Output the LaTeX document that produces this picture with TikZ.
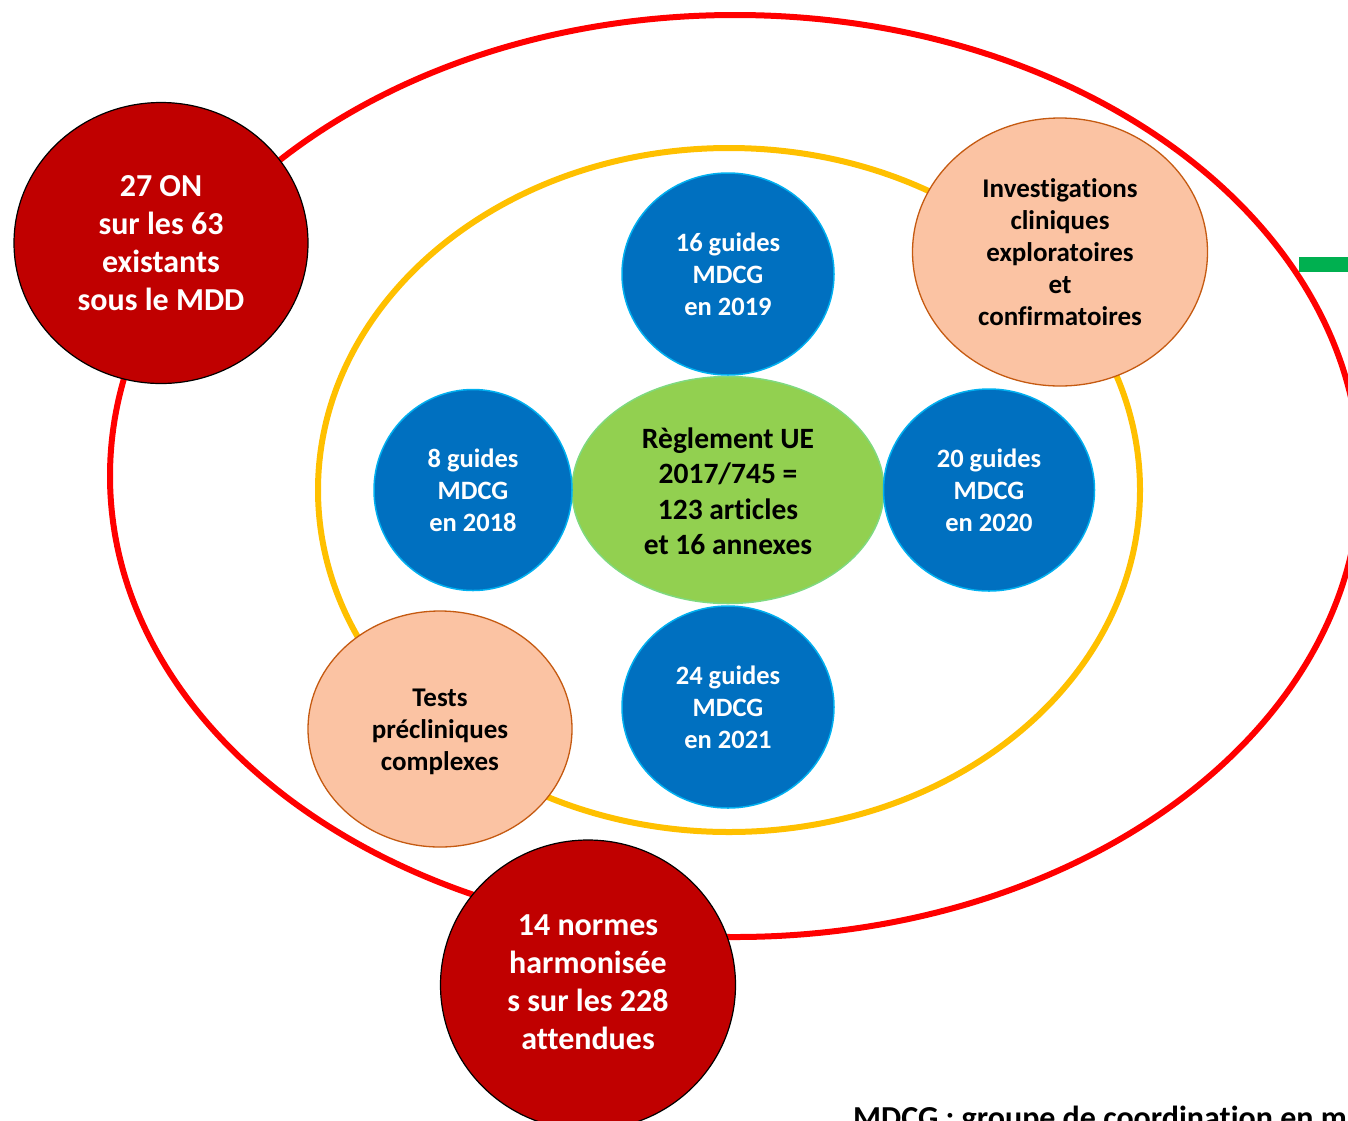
\documentclass[tikz,border=0pt]{standalone}
\usepackage{fontspec}
\setmainfont{Carlito}[Ligatures={NoCommon}]
\usetikzlibrary{shapes.geometric}
\definecolor{ringred}{HTML}{FF0000}
\definecolor{ringyellow}{HTML}{FFC000}
\definecolor{darkred}{HTML}{C00000}
\definecolor{guideblue}{HTML}{0070C0}
\definecolor{guideborder}{HTML}{00B0F0}
\definecolor{reglgreen}{HTML}{92D050}
\definecolor{reglborder}{HTML}{7FD97F}
\definecolor{peach}{HTML}{FBC3A3}
\definecolor{peachborder}{HTML}{C55A11}
\definecolor{barGreen}{HTML}{00B050}
\tikzset{
  ring/.style={line width=6pt},
  redcirc/.style={ellipse, fill=darkred, draw=black, line width=1.2pt, inner sep=0pt},
  bluecirc/.style={ellipse, fill=guideblue, draw=guideborder, line width=1.5pt, inner sep=0pt},
  greenell/.style={ellipse, fill=reglgreen, draw=reglborder, line width=1.5pt, inner sep=0pt},
  peachell/.style={ellipse, fill=peach, draw=peachborder, line width=1.3pt, inner sep=0pt},
  redtxt/.style={align=center, text=white, font=\fontsize{32}{38}\selectfont\bfseries},
  bluetxt/.style={align=center, text=white, font=\fontsize{26.5}{32}\selectfont\bfseries},
  greentxt/.style={align=center, text=black, font=\fontsize{29.5}{35.5}\selectfont\bfseries},
  peachtxt/.style={align=center, text=black, font=\fontsize{27}{32}\selectfont\bfseries},
  notetxt/.style={anchor=base west, text=black, font=\fontsize{32}{38}\selectfont\bfseries, inner sep=0pt}
}
\begin{document}
\begin{tikzpicture}[x=1pt,y=-1pt]
\useasboundingbox (0,0) rectangle (1348,1120);
\clip (0,0) rectangle (1348,1120);
% rings
\draw[ring, ringred] (735,476) ellipse [x radius=625, y radius=461];
\draw[ring, ringyellow] (729,490) ellipse [x radius=411, y radius=342];
% green bar
\fill[barGreen] (1299,257) rectangle (1352,272);
% central regulation
\node[greenell, minimum width=312pt, minimum height=227pt] (regl) at (728,490) {};
\node[greentxt] (regltxt) at (728,491) {Règlement UE\\2017/745 =\\123 articles\\ et 16 annexes};
% guides
\node[bluecirc, minimum width=212pt, minimum height=202pt] (g2019) at (728,274) {};
\node[bluetxt] at (g2019.center) {16 guides\\MDCG\\en 2019};
\node[bluecirc, minimum width=198pt, minimum height=201pt] (g2018) at (473,490) {};
\node[bluetxt] at (g2018.center) {8 guides\\MDCG\\en 2018};
\node[bluecirc, minimum width=211pt, minimum height=202pt] (g2020) at (989,490) {};
\node[bluetxt] at (g2020.center) {20 guides\\MDCG\\en 2020};
\node[bluecirc, minimum width=212pt, minimum height=202pt] (g2021) at (728,707) {};
\node[bluetxt] at (g2021.center) {24 guides\\MDCG\\en 2021};
% peach
\node[peachell, minimum width=295pt, minimum height=268pt] (invest) at (1060,252) {};
\node[peachtxt] at (invest.center) {Investigations\\cliniques\\exploratoires\\et\\confirmatoires};
\node[peachell, minimum width=264pt, minimum height=236pt] (tests) at (440,729) {};
\node[peachtxt] at (440,732) {Tests\\précliniques\\complexes};
% red circles
\node[redcirc, minimum width=294pt, minimum height=281pt] (on) at (161,243) {};
\node[redtxt] at (on.center) {27 ON\\sur les 63\\existants\\sous le MDD};
\node[redcirc, minimum width=295pt, minimum height=290pt] (normes) at (588,985) {};
\node[redtxt] at (588,982) {14 normes\\harmonisée\\s sur les 228\\attendues};
% note
\node[notetxt] (note) at (853,1128) {MDCG : groupe de coordination en m};
\end{tikzpicture}
\end{document}
